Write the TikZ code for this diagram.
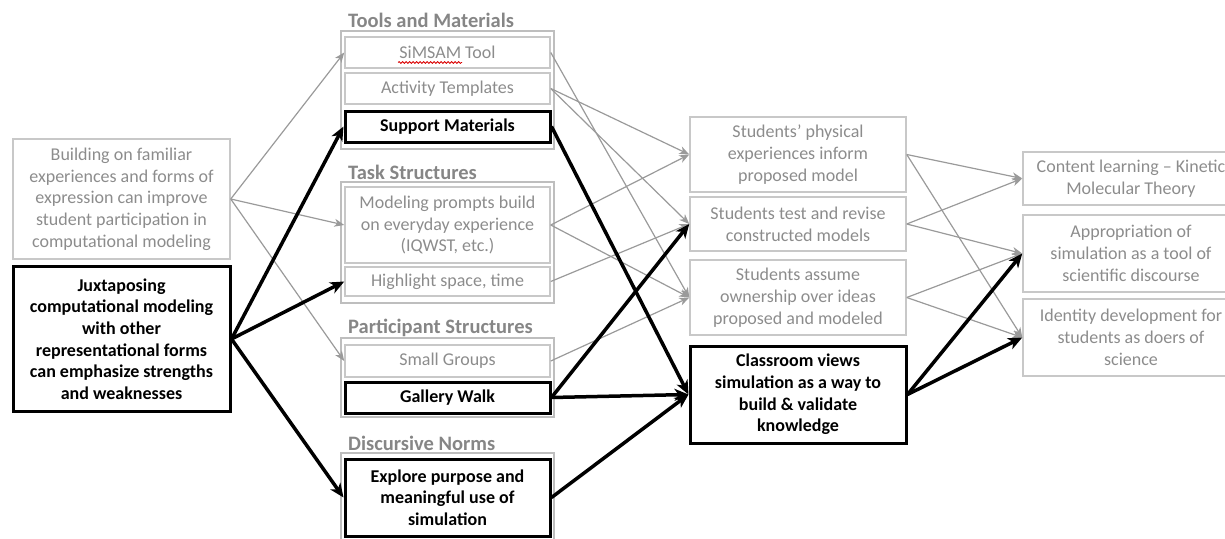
\documentclass[tikz,border=0pt]{standalone}
\usepackage{fontspec}
\setmainfont{Carlito}
\usetikzlibrary{arrows.meta,decorations.pathmorphing}
\definecolor{boxgray}{HTML}{C8C8C8}
\definecolor{txtgray}{HTML}{8C8C8C}
\definecolor{ttlgray}{HTML}{868686}
\definecolor{grpgray}{HTML}{BEBEBE}
\definecolor{arrgray}{HTML}{9A9A9A}
\newcommand{\fsbody}{\fontsize{18}{21.7}\selectfont}
\newcommand{\fsttl}{\fontsize{20.5}{24}\selectfont}
\tikzset{
  gbox/.style={draw=boxgray, line width=1.5pt, text=txtgray, align=center, inner sep=0pt, font=\fsbody},
  bbox/.style={draw=black, line width=3pt, align=center, inner sep=0pt, font=\fsbody\bfseries},
  grp/.style={draw=grpgray, line width=2pt},
  ttl/.style={anchor=west, text=ttlgray, font=\fsttl\bfseries, inner sep=0pt},
  garrow/.style={draw=arrgray, line width=1.2pt, -{Stealth[length=10pt,width=8pt,inset=3pt]}},
  barrow/.style={draw=black, line width=3.5pt, -{Stealth[length=14pt,width=12pt,inset=4pt]}},
  midw/.style={minimum width=205pt},
  colw/.style={minimum width=216pt},
  leftw/.style={minimum width=217pt},
}
\begin{document}
\begin{tikzpicture}[x=1pt,y=-1pt]
\useasboundingbox (0,0) rectangle (1225,538);

% group frames
\draw[grp] (341,31) rectangle (554,149);
\draw[grp] (341,182) rectangle (554,303);
\draw[grp] (341,338) rectangle (554,417);
\draw[grp] (341,453) rectangle (554,542);

% titles
\node[ttl] (t1) at (348,20) {Tools and Materials};
\node[ttl] (t2) at (348,172) {Task Structures};
\node[ttl] (t3) at (348,328) {Participant Structures};
\node[ttl] (t4) at (348,443) {Discursive Norms};

% left column
\node[gbox, leftw, minimum height=120pt] (build) at (121.5,199) {Building on familiar\\experiences and forms of\\expression can improve\\student participation in\\computational modeling};
\node[bbox, leftw, minimum height=145pt] (juxt) at (121.5,339) {Juxtaposing\\computational modeling\\with other\\representational forms\\can emphasize strengths\\and weaknesses};

% middle column
\node[gbox, midw, minimum height=31pt] (sim) at (447.5,52.5) {SiMSAM Tool};
\node[gbox, midw, minimum height=31pt] (act) at (447.5,88.5) {Activity Templates};
\node[bbox, midw, minimum height=31pt] (sup) at (447.5,126.5) {Support Materials};
\node[gbox, midw, minimum height=76pt] (mod) at (447.5,225) {Modeling prompts build\\on everyday experience\\(IQWST, etc.)};
\node[gbox, midw, minimum height=29pt] (high) at (447.5,281.5) {Highlight space, time};
\node[gbox, midw, minimum height=32pt] (small) at (447.5,361) {Small Groups};
\node[bbox, midw, minimum height=31pt] (gal) at (447.5,397.5) {Gallery Walk};
\node[bbox, midw, minimum height=77pt] (expl) at (447.5,497.5) {Explore purpose and\\meaningful use of\\simulation};

% spell-check underline
\draw[red!85!black, line width=0.8pt, decorate, decoration={snake, amplitude=0.9pt, segment length=3.5pt}] (398,62.5) -- (462,62.5);

% outcomes column
\node[gbox, colw, minimum height=75pt] (phys) at (798,154.5) {Students’ physical\\experiences inform\\proposed model};
\node[gbox, colw, minimum height=54pt] (test) at (798,224) {Students test and revise\\constructed models};
\node[gbox, colw, minimum height=75pt] (assume) at (798,297.5) {Students assume\\ownership over ideas\\proposed and modeled};
\node[bbox, colw, minimum height=97pt] (class) at (798,394.5) {Classroom views\\simulation as a way to\\build \& validate\\knowledge};

% right column
\node[gbox, colw, minimum height=53pt] (content) at (1131,178.5) {Content learning – Kinetic\\Molecular Theory};
\node[gbox, colw, minimum height=77pt] (approp) at (1131,253.5) {Appropriation of\\simulation as a tool of\\scientific discourse};
\node[gbox, colw, minimum height=77pt] (ident) at (1131,337.5) {Identity development for\\students as doers of\\science};

% gray connectors
\draw[garrow] (build.east) -- (sim.west);
\draw[garrow] (build.east) -- (mod.west);
\draw[garrow] (build.east) -- (small.west);
\draw[garrow] (sim.east) -- (assume.west);
\draw[garrow] (act.east) -- (phys.west);
\draw[garrow] (act.east) -- (test.west);
\draw[garrow] (mod.east) -- (phys.west);
\draw[garrow] (mod.east) -- (assume.west);
\draw[garrow] (high.east) -- (test.west);
\draw[garrow] (small.east) -- (assume.west);
\draw[garrow] (phys.east) -- (content.west);
\draw[garrow] (phys.east) -- (ident.west);
\draw[garrow] (test.east) -- (content.west);
\draw[garrow] (test.east) -- (approp.west);
\draw[garrow] (assume.east) -- (approp.west);
\draw[garrow] (assume.east) -- (ident.west);

% black connectors
\draw[barrow] (juxt.east) -- (sup.west);
\draw[barrow] (juxt.east) -- (high.west);
\draw[barrow] (juxt.east) -- (expl.west);
\draw[barrow] (sup.east) -- (class.west);
\draw[barrow] (gal.east) -- (test.west);
\draw[barrow] (gal.east) -- (class.west);
\draw[barrow] (expl.east) -- (class.west);
\draw[barrow] (class.east) -- (approp.west);
\draw[barrow] (class.east) -- (ident.west);
\end{tikzpicture}
\end{document}
